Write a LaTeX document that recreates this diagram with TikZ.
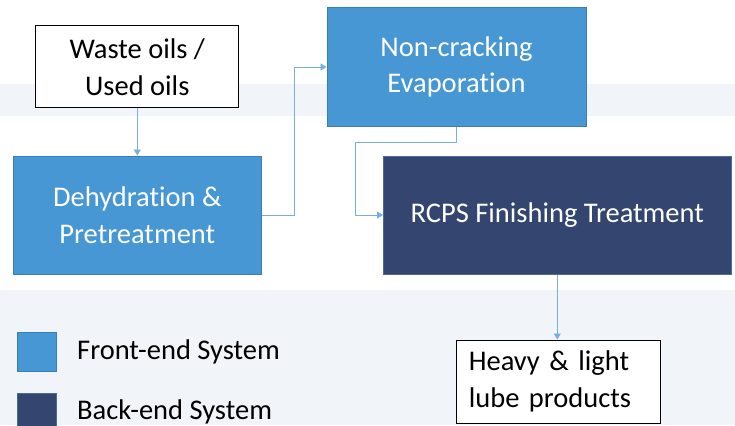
\documentclass[tikz,border=0pt]{standalone}
\usepackage{fontspec}
\setmainfont{Carlito}[Ligatures={NoCommon}]
\usetikzlibrary{arrows.meta}
\definecolor{frontblue}{HTML}{4697D3}
\definecolor{frontborder}{HTML}{3A7DBD}
\definecolor{backnavy}{HTML}{34466F}
\definecolor{backborder}{HTML}{4A6AA3}
\definecolor{flowline}{HTML}{7AAEDF}
\definecolor{bgpale}{HTML}{F1F5F9}
\tikzset{
  front/.style={draw=frontborder, line width=1pt, fill=frontblue, text=white, align=center, inner sep=0pt},
  back/.style={draw=backborder, line width=1pt, fill=backnavy, text=white, align=center, inner sep=0pt},
  plainbox/.style={draw=black, line width=1pt, fill=white, text=black, inner sep=0pt},
  flow/.style={draw=flowline, line width=0.9pt, -{Triangle[width=7pt,length=6pt]}},
  legtext/.style={anchor=west, inner sep=0pt, text=black},
}
\begin{document}
\begin{tikzpicture}[x=1pt,y=-1pt, font=\fontsize{28.5}{36.7}\selectfont]
\useasboundingbox (0,0) rectangle (735,425);
% faint background
\fill[white] (0,0) rectangle (735,425);
\fill[bgpale] (0,84) rectangle (735,116);
\fill[bgpale] (0,290) rectangle (735,425);

\node[plainbox, minimum width=203pt, minimum height=82pt, align=center] (waste) at (137.3,67) {Waste oils /\\Used oils};
\node[front, minimum width=248.6pt, minimum height=118pt] (dehyd) at (137.3,215) {Dehydration \&\\Pretreatment};
\node[front, minimum width=259pt, minimum height=118pt] (noncrack) at (456.5,67) {Non-cracking\\Evaporation};
\node[back, minimum width=347.5pt, minimum height=118pt] (rcps) at (557.3,215) {RCPS Finishing Treatment};
\node[plainbox, minimum width=203.4pt, minimum height=83pt, text width=179pt, align=left] (heavy) at (558.3,381.5) {Heavy \& light\\lube products};

\draw[flow] (waste.south) -- (dehyd.north);
\draw[flow] (dehyd.east) -- ++(32.8,0) |- (noncrack.west);
\draw[flow] (noncrack.south) -- ++(0,15.7) -| ([xshift=-27.5pt]rcps.west) -- (rcps.west);
\draw[flow] (rcps.south) -- (rcps.south |- heavy.north);

% legend
\node[front, minimum width=39pt, minimum height=39pt] (legfront) at (36.5,351.5) {};
\node[back, minimum width=39pt, minimum height=39pt] (legback) at (36.5,412.5) {};
\node[legtext] (legfronttext) at (77,352) {Front-end System};
\node[legtext] (legbacktext) at (77,412) {Back-end System};
\end{tikzpicture}
\end{document}
